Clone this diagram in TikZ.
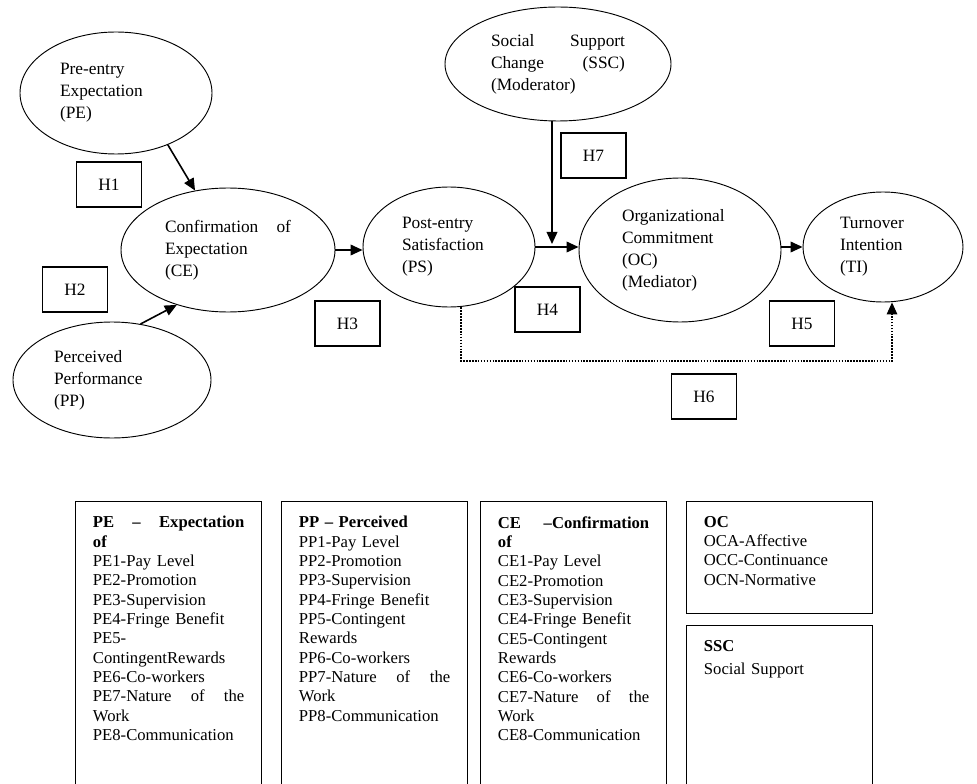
\documentclass[tikz,border=0pt]{standalone}
\usepackage{fontspec}
\setmainfont{Liberation Serif}
\usetikzlibrary{positioning, arrows.meta, shapes.geometric}

\begin{document}
\begin{tikzpicture}[x=0.75pt, y=-0.75pt,
    font=\fontsize{13}{16.5}\selectfont,
    construct/.style={draw, ellipse, line width=0.7pt, inner sep=0pt, align=left},
    hyp/.style={draw, line width=0.9pt, minimum width=48.75pt, minimum height=33.75pt},
    link/.style={-{Triangle[length=9pt, width=8pt]}, line width=1.2pt},
    listbox/.style={draw, line width=0.9pt, anchor=north west, align=left, text width=113.5pt,
      inner xsep=13pt, inner ysep=11pt, font=\fontsize{12.5}{14.5}\selectfont}]
  \useasboundingbox (0,0) rectangle (977,784);
  \clip (0,0) rectangle (977,784);

  % constructs
  \node[construct, minimum width=144pt, minimum height=91.5pt, text width=84pt] (PE) at (116,93) {Pre-entry\\Expectation\\(PE)};
  \node[construct, minimum width=160.5pt, minimum height=93pt, text width=94.5pt] (CE) at (228,250) {Confirmation \hfill of\\Expectation\\(CE)};
  \node[construct, minimum width=148.5pt, minimum height=87pt, text width=87pt] (PP) at (112,380) {Perceived\\Performance\\(PP)};
  \node[construct, minimum width=129pt, minimum height=90pt, text width=70.5pt] (PS) at (449,247) {Post-entry\\Satisfaction\\(PS)};
  \node[construct, minimum width=169.5pt, minimum height=85.5pt, text width=100.5pt] (SSC) at (558,64) {Social \hfill Support\\Change \hfill (SSC)\\(Moderator)};
  \node[construct, minimum width=151.5pt, minimum height=108pt, text width=87pt] (OC) at (680,250) {Organizational\\Commitment\\(OC)\\(Mediator)};
  \node[construct, minimum width=120pt, minimum height=82.5pt, text width=64.5pt] (TI) at (883,247) {Turnover\\Intention\\(TI)};

  % hypotheses
  \node[hyp] (H1) at (109,184.5) {H1};
  \node[hyp] (H2) at (75,289.5) {H2};
  \node[hyp] (H3) at (347.5,323.5) {H3};
  \node[hyp] (H4) at (547.5,309.5) {H4};
  \node[hyp] (H5) at (802,323.5) {H5};
  \node[hyp] (H6) at (704,396.5) {H6};
  \node[hyp] (H7) at (593.5,155.5) {H7};

  % paths
  \draw[link] (PE.-45) -- (CE.119);
  \draw[link] (PP.63) -- (CE.227);
  \draw[link] (CE.east) -- (CE.east -| PS.west);
  \draw[link] (PS.east) -- (PS.east -| OC.west);
  \coordinate (modJoin) at (552,244);
  \draw[link] ([xshift=-4.5pt]SSC.south) -- (modJoin);
  \draw[link] (TI.west -| OC.east) -- (TI.west);
  \coordinate (h6Low) at (461,361);
  \draw[link, densely dotted, line width=0.8pt] ([xshift=9pt]PS.south) -- (h6Low) -| ([xshift=6.75pt]TI.south);

  % indicator lists
  \node[listbox, text depth=250pt] (peList) at (75,501) {\textbf{PE \hfill -- \hfill Expectation}\\\textbf{of}\\PE1-Pay Level\\PE2-Promotion\\PE3-Supervision\\PE4-Fringe Benefit\\PE5-\\ContingentRewards\\PE6-Co-workers\\PE7-Nature \hfill of \hfill the\\Work\\PE8-Communication};
  \node[listbox, text depth=250pt] (ppList) at (281,501) {\textbf{PP -- Perceived}\\PP1-Pay Level\\PP2-Promotion\\PP3-Supervision\\PP4-Fringe Benefit\\PP5-Contingent\\Rewards\\PP6-Co-workers\\PP7-Nature \hfill of \hfill the\\Work\\PP8-Communication};
  \node[listbox, text depth=250pt] (ceList) at (480,501) {\textbf{CE \hfill --Confirmation}\\\textbf{of}\\CE1-Pay Level\\CE2-Promotion\\CE3-Supervision\\CE4-Fringe Benefit\\CE5-Contingent\\Rewards\\CE6-Co-workers\\CE7-Nature \hfill of \hfill the\\Work\\CE8-Communication};
  \node[listbox, text depth=53.5pt] (ocList) at (686,501) {\textbf{OC}\\OCA-Affective\\OCC-Continuance\\OCN-Normative};
  \node[listbox, text depth=250pt] (sscList) at (686,625) {\textbf{SSC}\\[3pt]Social Support};
\end{tikzpicture}
\end{document}
